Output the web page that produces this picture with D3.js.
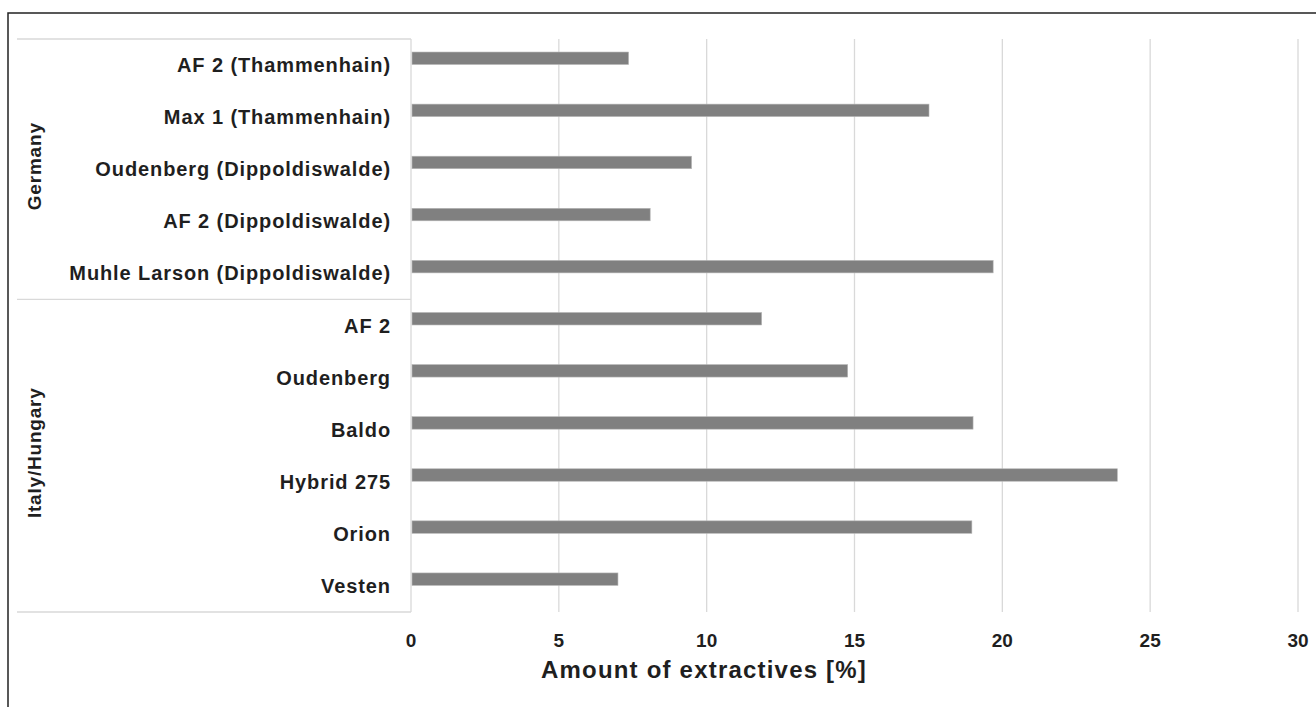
<!DOCTYPE html>
<html>
<head>
<meta charset="utf-8">
<script src="https://cdn.jsdelivr.net/npm/d3@7"></script>
<style>
  body { margin: 0; background: #fff; }
  text { font-family: "Liberation Sans", Arial, sans-serif; font-weight: bold; fill: #1f1f1f; }
</style>
</head>
<body>
<svg id="chart"></svg>
<script>
// data
const categories = [
  "AF 2 (Thammenhain)", "Max 1 (Thammenhain)", "Oudenberg (Dippoldiswalde)",
  "AF 2 (Dippoldiswalde)", "Muhle Larson (Dippoldiswalde)",
  "AF 2", "Oudenberg", "Baldo", "Hybrid 275", "Orion", "Vesten"
]
const values = [7.36, 17.52, 9.49, 8.09, 19.69, 11.86, 14.77, 19.01, 23.89, 18.97, 7.0]
const groupOf = ["Germany", "Germany", "Germany", "Germany", "Germany",
  "Italy/Hungary", "Italy/Hungary", "Italy/Hungary", "Italy/Hungary", "Italy/Hungary", "Italy/Hungary"]
const groupNames = ["Germany", "Italy/Hungary"]
const xTicks = [0, 5, 10, 15, 20, 25, 30]

const width = 1316
const height = 707
const plotLeft = 411, plotRight = 1298, plotTop = 39, plotBottom = 612

const svg = d3.select("#chart").attr("width", width).attr("height", height)

// outer frame (runs off the picture at right and bottom)
svg.append("rect").attr("x", 8).attr("y", 13).attr("width", 1330).attr("height", 720)
  .attr("fill", "none").attr("stroke", "#222").attr("stroke-width", 1.5)

const x_scale = d3.scaleLinear().domain([0, 30]).range([plotLeft, plotRight])
const y_scale = d3.scaleBand().domain(categories).range([plotTop, plotBottom]).padding(0)
const bw = y_scale.bandwidth()

// gridlines
svg.selectAll("line.grid").data(xTicks.slice(1)).join("line").attr("class", "grid")
  .attr("x1", d => x_scale(d)).attr("x2", d => x_scale(d))
  .attr("y1", plotTop).attr("y2", plotBottom)
  .attr("stroke", "#d9d9d9").attr("stroke-width", 1.3)

// category axis line
svg.append("line").attr("x1", plotLeft).attr("x2", plotLeft).attr("y1", plotTop).attr("y2", plotBottom)
  .attr("stroke", "#d9d9d9").attr("stroke-width", 1.3)

// group boundaries
const groupInfo = groupNames.map(g => {
  const cats = categories.filter((c, i) => groupOf[i] === g)
  return { name: g, y0: y_scale(cats[0]), y1: y_scale(cats[cats.length - 1]) + bw }
})
const bounds = [plotTop, ...groupInfo.map(g => g.y1)]
svg.selectAll("line.sep").data(bounds).join("line").attr("class", "sep")
  .attr("x1", 17).attr("x2", plotLeft).attr("y1", d => d).attr("y2", d => d)
  .attr("stroke", "#d9d9d9").attr("stroke-width", 1.3)

// bars
svg.selectAll("rect.bar").data(categories).join("rect").attr("class", "bar")
  .attr("x", x_scale(0) + 1)
  .attr("y", d => y_scale(d) + bw * 0.25)
  .attr("width", (d, i) => x_scale(values[i]) - x_scale(0) - 1)
  .attr("height", bw * 0.24)
  .attr("fill", "#808080").attr("stroke", "#b8b8b8").attr("stroke-width", 0.6)

// category labels
svg.selectAll("text.cat").data(categories).join("text").attr("class", "cat")
  .attr("x", 391).attr("y", d => y_scale(d) + bw / 2 + 7)
  .attr("text-anchor", "end")
  .attr("font-size", 20).attr("letter-spacing", 0.9)
  .text(d => d)

// group labels
svg.selectAll("text.grp").data(groupInfo).join("text").attr("class", "grp")
  .attr("transform", d => `translate(41,${(d.y0 + d.y1) / 2 - 3}) rotate(-90)`)
  .attr("text-anchor", "middle")
  .attr("font-size", 19).attr("letter-spacing", 0.8)
  .text(d => d.name)

// x axis tick labels
svg.selectAll("text.tick").data(xTicks).join("text").attr("class", "tick")
  .attr("x", d => x_scale(d)).attr("y", 647)
  .attr("text-anchor", "middle").attr("font-size", 19)
  .text(d => d)

// axis title
svg.append("text").attr("x", 704).attr("y", 678)
  .attr("text-anchor", "middle").attr("font-size", 24).attr("letter-spacing", 1.2)
  .text("Amount of extractives [%]")
</script>
</body>
</html>
